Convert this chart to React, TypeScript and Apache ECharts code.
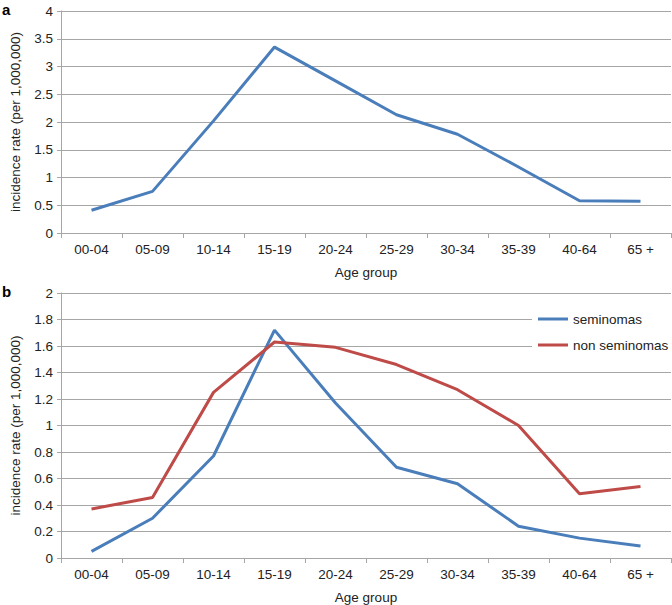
import React, { useEffect, useRef } from "react";
import * as echarts from "echarts";

const ageGroups = ["00-04", "05-09", "10-14", "15-19", "20-24", "25-29", "30-34", "35-39", "40-64", "65 +"];
const totalRates = [0.41, 0.75, 2.02, 3.35, 2.74, 2.13, 1.78, 1.19, 0.58, 0.57];
const seminomas = [0.05, 0.3, 0.77, 1.72, 1.17, 0.685, 0.56, 0.24, 0.15, 0.09];
const nonSeminomas = [0.37, 0.456, 1.25, 1.63, 1.59, 1.46, 1.27, 1.0, 0.485, 0.54];

const FONT = "Liberation Sans, Arial, sans-serif";
const FS = 13.5;
const TEXT = "#222";
const GRID = "#a6a6a6";
const BLUE = "#4a7ebb";
const RED = "#be4b48";

export default function App() {
  const ref = useRef<HTMLDivElement>(null);
  useEffect(() => {
    if (!ref.current) return;
    const chart = echarts.init(ref.current, null, { renderer: "svg" });
    const xAxisBase = (gridIndex: number) => ({
      type: "category" as const,
      gridIndex,
      data: ageGroups,
      boundaryGap: true,
      name: "Age group",
      nameLocation: "middle" as const,
      nameGap: 32,
      nameTextStyle: { color: TEXT, fontSize: FS, fontFamily: FONT },
      axisLine: { show: true, lineStyle: { color: GRID, width: 1 } },
      axisTick: { show: true, length: 5, lineStyle: { color: GRID } },
      axisLabel: { color: TEXT, fontSize: FS, fontFamily: FONT, margin: 9 },
      splitLine: { show: false },
    });
    const yAxisBase = (gridIndex: number, max: number, interval: number) => ({
      type: "value" as const,
      gridIndex,
      min: 0,
      max,
      interval,
      name: "incidence rate (per 1,000,000)",
      nameLocation: "middle" as const,
      nameGap: 39,
      nameTextStyle: { color: TEXT, fontSize: FS, fontFamily: FONT },
      axisLine: { show: true, lineStyle: { color: GRID, width: 1 } },
      axisTick: { show: true, length: 4, lineStyle: { color: GRID } },
      axisLabel: { color: TEXT, fontSize: FS, fontFamily: FONT, margin: 8 },
      splitLine: { show: true, lineStyle: { color: GRID, width: 1 } },
    });
    chart.setOption({
      animation: false,
      backgroundColor: "#fff",
      textStyle: { fontFamily: FONT },
      grid: [
        { left: 51, top: 11, width: 620, height: 222 },
        { left: 51, top: 293, width: 620, height: 268 },
      ],
      xAxis: [xAxisBase(0), xAxisBase(1)],
      yAxis: [yAxisBase(0, 4, 0.5), yAxisBase(1, 2, 0.2)],
      legend: {
        show: true,
        orient: "vertical",
        left: 532,
        top: 306,
        padding: [6, 4, 6, 6],
        backgroundColor: "#fff",
        icon: "rect",
        itemWidth: 30,
        itemHeight: 3,
        itemGap: 12,
        data: ["seminomas", "non seminomas"],
        textStyle: { color: TEXT, fontSize: FS, fontFamily: FONT, lineHeight: 14 },
      },
      graphic: [
        { type: "text", left: 2, top: 2, style: { text: "a", font: "bold 15px " + FONT, fill: "#000" } },
        { type: "text", left: 2, top: 284, style: { text: "b", font: "bold 15px " + FONT, fill: "#000" } },
      ],
      series: [
        {
          name: "total",
          type: "line",
          xAxisIndex: 0,
          yAxisIndex: 0,
          data: totalRates,
          showSymbol: false,
          symbol: "none",
          lineStyle: { color: BLUE, width: 3 },
          itemStyle: { color: BLUE },
        },
        {
          name: "seminomas",
          type: "line",
          xAxisIndex: 1,
          yAxisIndex: 1,
          data: seminomas,
          showSymbol: false,
          symbol: "none",
          lineStyle: { color: BLUE, width: 3 },
          itemStyle: { color: BLUE },
        },
        {
          name: "non seminomas",
          type: "line",
          xAxisIndex: 1,
          yAxisIndex: 1,
          data: nonSeminomas,
          showSymbol: false,
          symbol: "none",
          lineStyle: { color: RED, width: 3 },
          itemStyle: { color: RED },
        },
      ],
    });
    return () => chart.dispose();
  }, []);
  return (
    <div
      ref={ref}
      style={{ position: "fixed", left: 0, top: 0, width: 672, height: 605, background: "#fff" }}
    />
  );
}
